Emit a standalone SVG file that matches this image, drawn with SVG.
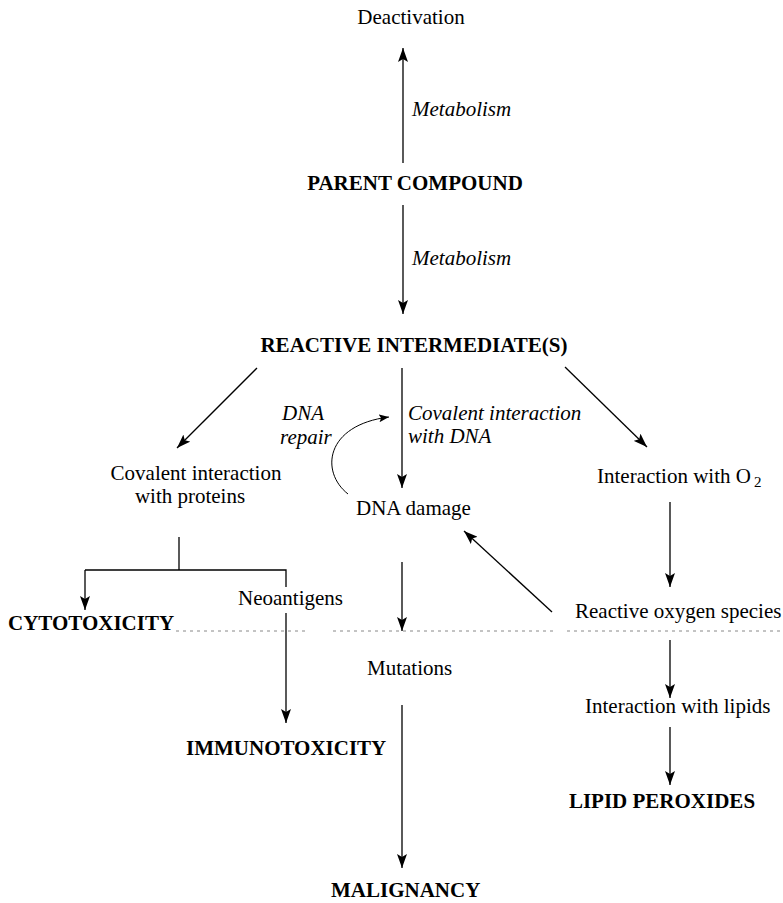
<svg xmlns="http://www.w3.org/2000/svg" width="783" height="903" viewBox="0 0 783 903">
<style>
text{font-family:"Liberation Serif","Times New Roman",serif;font-size:21px;fill:#000}
.b{font-weight:bold}
.i{font-style:italic}
.m{text-anchor:middle}
.ln{stroke:#000;stroke-width:1.3;fill:none}
.ar{marker-end:url(#ah)}
.dot{stroke:#888;stroke-width:1;stroke-dasharray:3 4;fill:none}
</style>
<defs>
<marker id="ah" markerUnits="userSpaceOnUse" markerWidth="15" markerHeight="10" refX="14" refY="5" orient="auto">
<path d="M0,0 L14,5 L0,10 L3,5 z" fill="#000"/>
</marker>
<marker id="ahs" markerUnits="userSpaceOnUse" markerWidth="11" markerHeight="8" refX="10" refY="4" orient="auto">
<path d="M0,0 L10,4 L0,8 L2,4 z" fill="#000"/>
</marker>
</defs>
<rect width="783" height="903" fill="#fff"/>

<g id="connectors">
<line class="ln ar" x1="403" y1="163" x2="403" y2="48"/>
<line class="ln ar" x1="403" y1="205" x2="403" y2="314"/>
<line class="ln ar" x1="257" y1="368" x2="177" y2="448"/>
<line class="ln ar" x1="402" y1="368" x2="402" y2="488"/>
<line class="ln ar" x1="565" y1="367" x2="647" y2="447"/>
<path class="ln" style="stroke-width:1;marker-end:url(#ahs)" d="M348,494 C320,472 325,425 389,417"/>
<polyline class="ln" points="179,537 179,570"/>
<polyline class="ln" points="85,570 286,570 286,587"/>
<line class="ln ar" x1="85" y1="570" x2="85" y2="610"/>
<line class="ln ar" x1="286" y1="613" x2="286" y2="723"/>
<line class="ln ar" x1="402" y1="562" x2="402" y2="631"/>
<line class="ln ar" x1="552" y1="612" x2="464" y2="531"/>
<line class="ln ar" x1="670" y1="502" x2="670" y2="587"/>
<line class="ln ar" x1="670" y1="640" x2="670" y2="698"/>
<line class="ln ar" x1="670" y1="727" x2="670" y2="785"/>
<line class="ln ar" x1="402" y1="705" x2="402" y2="868"/>
<line class="dot" x1="176" y1="631" x2="307" y2="631"/>
<line class="dot" x1="333" y1="631" x2="553" y2="631"/>
<line class="dot" x1="567" y1="631" x2="783" y2="631"/>
</g>

<g id="deactivation"><text class="m" x="411" y="24">Deactivation</text></g>
<g id="label-metabolism-1"><text class="i" x="412" y="116">Metabolism</text></g>
<g id="parent-compound"><text class="b m" x="415" y="190">PARENT COMPOUND</text></g>
<g id="label-metabolism-2"><text class="i" x="412" y="265">Metabolism</text></g>
<g id="reactive-intermediates"><text class="b m" x="414" y="352">REACTIVE INTERMEDIATE(S)</text></g>
<g id="label-dna-repair"><text class="i" x="282" y="420">DNA<tspan x="280" dy="24">repair</tspan></text></g>
<g id="label-covalent-dna"><text class="i" x="408" y="420">Covalent interaction<tspan x="408" dy="23">with DNA</tspan></text></g>
<g id="covalent-proteins"><text class="m" x="196" y="480">Covalent interaction<tspan x="190" dy="23">with proteins</tspan></text></g>
<g id="interaction-o2"><text x="597" y="483">Interaction with O<tspan dx="3" dy="4" font-size="15">2</tspan></text></g>
<g id="dna-damage"><text x="356" y="515">DNA damage</text></g>
<g id="neoantigens"><text x="238" y="605">Neoantigens</text></g>
<g id="cytotoxicity"><text class="b" x="8" y="630">CYTOTOXICITY</text></g>
<g id="reactive-oxygen-species"><text x="575" y="618">Reactive oxygen species</text></g>
<g id="mutations"><text x="367" y="675">Mutations</text></g>
<g id="interaction-lipids"><text x="585" y="713">Interaction with lipids</text></g>
<g id="immunotoxicity"><text class="b" x="186" y="755">IMMUNOTOXICITY</text></g>
<g id="lipid-peroxides"><text class="b m" x="662" y="808">LIPID PEROXIDES</text></g>
<g id="malignancy"><text class="b" x="331" y="897">MALIGNANCY</text></g>
</svg>
